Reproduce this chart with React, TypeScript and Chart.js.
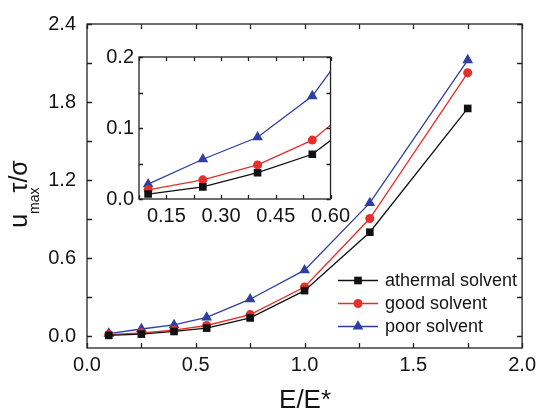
import React, { useEffect, useRef } from "react";
import { Chart, registerables } from "chart.js";

Chart.register(...registerables);

// ---- data ----
const xValues = [0.1, 0.25, 0.4, 0.55, 0.75, 1.0, 1.3, 1.75];
const athermal = [0.007, 0.017, 0.037, 0.063, 0.141, 0.351, 0.8, 1.751];
const good = [0.013, 0.027, 0.048, 0.083, 0.167, 0.379, 0.905, 2.025];
const poor = [0.021, 0.056, 0.087, 0.145, 0.285, 0.508, 1.025, 2.123];
const seriesLabels = ["athermal solvent", "good solvent", "poor solvent"];
const xTitle = "E/E*";

const mainXTicks = [0, 0.5, 1.0, 1.5, 2.0];
const mainXMinor = [0.25, 0.75, 1.25, 1.75];
const mainYTicks = [0, 0.6, 1.2, 1.8, 2.4];
const mainYMinor = [0.3, 0.9, 1.5, 2.1];
const insetXTicks = [0.15, 0.3, 0.45, 0.6];
const insetXMinor = [0.075, 0.225, 0.375, 0.525];
const insetYTicks = [0, 0.1, 0.2];
const insetYMinor = [0.05, 0.15];

const FONT = "'Liberation Sans', Arial, Helvetica, sans-serif";
const BLACK = "#111111";
const RED = "#e3302b";
const BLUE = "#2f3f9f";
const AXIS = "#222222";
const TEXT = "#141414";

function makeDatasets() {
  const defs = [
    { label: seriesLabels[0], values: athermal, color: BLACK, style: "rect", r: 5.4 },
    { label: seriesLabels[1], values: good, color: RED, style: "circle", r: 4.5 },
    { label: seriesLabels[2], values: poor, color: BLUE, style: "triangle", r: 6.2 },
  ];
  return defs.map((d) => ({
    label: d.label,
    data: xValues.map((x, i) => ({ x, y: d.values[i] })),
    borderColor: d.color,
    backgroundColor: d.color,
    borderWidth: 1.3,
    pointStyle: d.style,
    pointRadius: d.r,
    pointBorderWidth: 0,
    pointBackgroundColor: d.color,
    pointBorderColor: d.color,
    tension: 0,
    fill: false,
  }));
}

function framePlugin(
  id: string,
  xMajor: number[],
  xMinor: number[],
  yMajor: number[],
  yMinor: number[],
  len: number
) {
  return {
    id,
    afterDatasetsDraw(chart: any) {
      const { ctx, chartArea: a, scales } = chart;
      ctx.save();
      ctx.strokeStyle = AXIS;
      ctx.lineWidth = 1.3;
      ctx.strokeRect(a.left, a.top, a.right - a.left, a.bottom - a.top);
      ctx.beginPath();
      for (const v of [...xMajor, ...xMinor]) {
        const px = Math.round(scales.x.getPixelForValue(v)) + 0.5;
        ctx.moveTo(px, a.bottom);
        ctx.lineTo(px, a.bottom - len);
        ctx.moveTo(px, a.top);
        ctx.lineTo(px, a.top + len);
      }
      for (const v of [...yMajor, ...yMinor]) {
        const py = Math.round(scales.y.getPixelForValue(v)) + 0.5;
        ctx.moveTo(a.left, py);
        ctx.lineTo(a.left + len, py);
        ctx.moveTo(a.right, py);
        ctx.lineTo(a.right - len, py);
      }
      ctx.stroke();
      ctx.restore();
    },
  };
}

function drawMarker(ctx: CanvasRenderingContext2D, style: string, x: number, y: number, r: number) {
  ctx.beginPath();
  if (style === "rect") {
    const s = r * Math.SQRT1_2;
    ctx.rect(x - s, y - s, 2 * s, 2 * s);
  } else if (style === "circle") {
    ctx.arc(x, y, r, 0, Math.PI * 2);
  } else {
    const h = r * 1.5;
    const w = r * Math.sin(Math.PI / 3);
    ctx.moveTo(x, y - r);
    ctx.lineTo(x + w, y - r + h);
    ctx.lineTo(x - w, y - r + h);
    ctx.closePath();
  }
  ctx.fill();
}

const legendPlugin = {
  id: "inlineLegend",
  afterDraw(chart: any) {
    const { ctx } = chart;
    const rows = [280, 303, 326];
    ctx.save();
    chart.data.datasets.forEach((ds: any, i: number) => {
      const y = rows[i];
      ctx.strokeStyle = ds.borderColor;
      ctx.lineWidth = 1.3;
      ctx.beginPath();
      ctx.moveTo(338, y + 0.5);
      ctx.lineTo(378, y + 0.5);
      ctx.stroke();
      ctx.fillStyle = ds.pointBackgroundColor;
      drawMarker(ctx, ds.pointStyle, 358, y + 0.5, ds.pointRadius);
      ctx.fillStyle = TEXT;
      ctx.font = `18px ${FONT}`;
      ctx.textBaseline = "middle";
      ctx.textAlign = "left";
      ctx.fillText(ds.label, 385, y + 1);
    });
    ctx.restore();
  },
};

const titlesPlugin = {
  id: "axisTitles",
  afterDraw(chart: any) {
    const { ctx, chartArea: a } = chart;
    ctx.save();
    ctx.fillStyle = TEXT;
    // x title
    ctx.font = `26px ${FONT}`;
    ctx.textAlign = "center";
    ctx.textBaseline = "alphabetic";
    ctx.fillText(xTitle, (a.left + a.right) / 2 + 0.5, 408);

    // y title: u_max τ/σ, rotated
    const big = `25px ${FONT}`;
    const small = `14px ${FONT}`;
    ctx.font = big;
    const wU = ctx.measureText("u").width;
    const wT = ctx.measureText("τ/σ").width;
    ctx.font = small;
    const wM = ctx.measureText("max").width;
    const overlap = 5;
    const total = wU + wM + wT - overlap;
    ctx.translate(29, 194);
    ctx.rotate(-Math.PI / 2);
    ctx.textAlign = "left";
    let x = -total / 2;
    const base = -2;
    ctx.font = big;
    ctx.fillText("u", x, base);
    x += wU;
    ctx.font = small;
    ctx.fillText("max", x, base + 12);
    x += wM - overlap;
    ctx.font = big;
    ctx.fillText("τ/σ", x, base);
    ctx.restore();
  },
};

function setTicks(arr: number[]) {
  return (scale: any) => {
    scale.ticks = arr.map((v) => ({ value: v }));
  };
}

export default function App() {
  const mainRef = useRef<HTMLCanvasElement>(null);
  const insetRef = useRef<HTMLCanvasElement>(null);

  useEffect(() => {
    const main = new Chart(mainRef.current as HTMLCanvasElement, {
      type: "line",
      data: { datasets: makeDatasets() as any },
      options: {
        animation: false,
        responsive: false,
        layout: { padding: { top: 24, right: 18, left: 0, bottom: 0 } },
        plugins: { legend: { display: false }, tooltip: { enabled: false } },
        scales: {
          x: {
            type: "linear",
            min: 0,
            max: 2,
            grid: { display: false, drawTicks: false },
            border: { display: false },
            afterBuildTicks: setTicks(mainXTicks),
            afterFit: (s: any) => {
              s.height = 63;
            },
            ticks: {
              padding: 5,
              color: TEXT,
              font: { family: FONT, size: 20 },
              callback: (v: any) => Number(v).toFixed(1),
              maxRotation: 0,
            },
          },
          y: {
            type: "linear",
            min: -0.09,
            max: 2.4,
            grid: { display: false, drawTicks: false },
            border: { display: false },
            afterBuildTicks: setTicks(mainYTicks),
            afterFit: (s: any) => {
              s.width = 87;
            },
            ticks: {
              padding: 11,
              color: TEXT,
              font: { family: FONT, size: 20 },
              callback: (v: any) => Number(v).toFixed(1),
            },
          },
        },
      },
      plugins: [
        framePlugin("mainFrame", mainXTicks, mainXMinor, mainYTicks, mainYMinor, 5),
        legendPlugin,
        titlesPlugin,
      ],
    });

    const inset = new Chart(insetRef.current as HTMLCanvasElement, {
      type: "line",
      data: { datasets: makeDatasets() as any },
      options: {
        animation: false,
        responsive: false,
        layout: { padding: { top: 13, right: 19, left: 0, bottom: 0 } },
        plugins: { legend: { display: false }, tooltip: { enabled: false } },
        scales: {
          x: {
            type: "linear",
            min: 0.075,
            max: 0.6,
            grid: { display: false, drawTicks: false },
            border: { display: false },
            afterBuildTicks: setTicks(insetXTicks),
            afterFit: (s: any) => {
              s.height = 31;
            },
            ticks: {
              padding: 5,
              color: TEXT,
              font: { family: FONT, size: 20 },
              callback: (v: any) => Number(v).toFixed(2),
              maxRotation: 0,
            },
          },
          y: {
            type: "linear",
            min: 0,
            max: 0.2,
            grid: { display: false, drawTicks: false },
            border: { display: false },
            afterBuildTicks: setTicks(insetYTicks),
            afterFit: (s: any) => {
              s.width = 44;
            },
            ticks: {
              padding: 5,
              color: TEXT,
              font: { family: FONT, size: 20 },
              callback: (v: any) => Number(v).toFixed(1),
            },
          },
        },
      },
      plugins: [framePlugin("insetFrame", insetXTicks, insetXMinor, insetYTicks, insetYMinor, 4)],
    });

    return () => {
      main.destroy();
      inset.destroy();
    };
  }, []);

  return (
    <div
      style={{
        position: "fixed",
        left: 0,
        top: 0,
        width: 541,
        height: 411,
        background: "#ffffff",
      }}
    >
      <canvas
        ref={mainRef}
        width={541}
        height={411}
        style={{ position: "absolute", left: 0, top: 0, width: 541, height: 411 }}
      />
      <canvas
        ref={insetRef}
        width={260}
        height={190}
        style={{ position: "absolute", left: 95, top: 40, width: 260, height: 190 }}
      />
    </div>
  );
}
